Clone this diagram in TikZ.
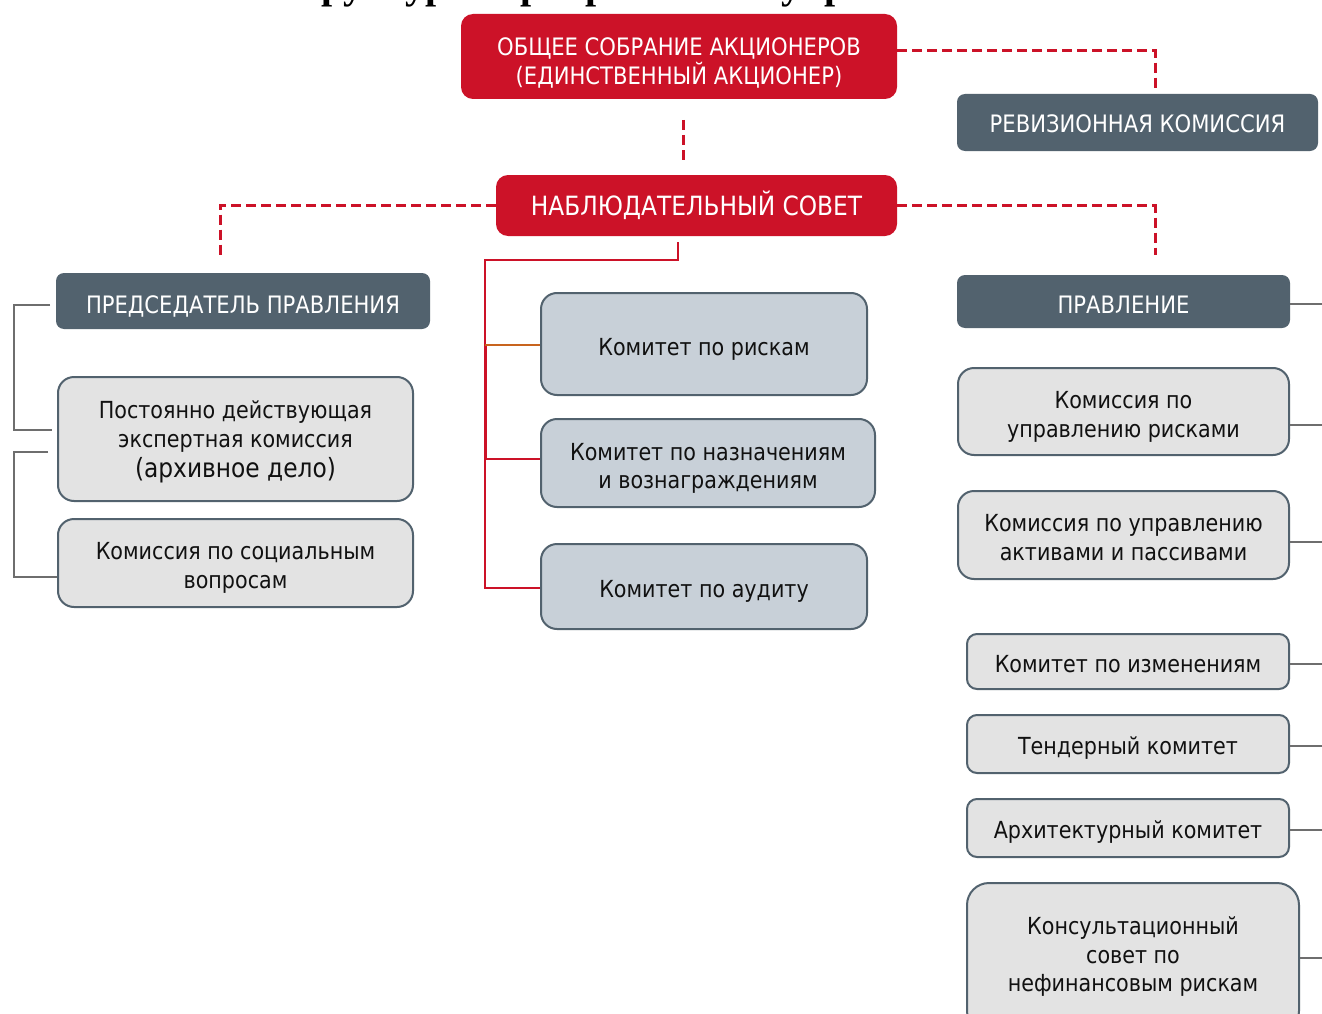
\documentclass[tikz,border=0pt]{standalone}
\usepackage{fontspec}
\setmainfont{DejaVu Sans}[FakeStretch=0.88]
\newfontfamily\titlefont{Liberation Serif}
\definecolor{cred}{HTML}{CC1228}
\definecolor{cslate}{HTML}{52626E}
\definecolor{clight}{HTML}{E3E3E3}
\definecolor{cblue}{HTML}{C8D0D8}
\definecolor{cgray}{HTML}{6E6E6E}
\definecolor{corange}{HTML}{C8641E}
\definecolor{ctext}{HTML}{111111}
\tikzset{
  redbox/.style={fill=cred, rounded corners=12pt, inner sep=0pt},
  slatebox/.style={fill=cslate, rounded corners=8pt, inner sep=0pt},
  graybox/.style={draw=cslate, line width=2pt, fill=clight, rounded corners=16pt, inner sep=0pt},
  bluebox/.style={graybox, fill=cblue},
  txt/.style={align=center, text=ctext, inner sep=0pt, font=\fontsize{23.5}{29}\selectfont},
  wtxt/.style={align=center, text=white, inner sep=0pt, font=\fontsize{24}{29}\selectfont},
  dashlink/.style={draw=cred, line width=3pt, dash pattern=on 10pt off 5pt},
  redlink/.style={draw=cred, line width=2pt},
  orangelink/.style={draw=corange, line width=2pt},
  graylink/.style={draw=cgray, line width=2pt},
}
\begin{document}
\begin{tikzpicture}[x=1pt, y=-1pt]
\useasboundingbox (0,0) rectangle (1322,1014);
\fill[white] (0,0) rectangle (1322,1014);
% clipped title
\begin{scope}
\clip (0,0) rectangle (1322,1014);
\node[anchor=base west, inner sep=0pt, font=\titlefont\bfseries\fontsize{40}{40}\selectfont] (title) at (273,-1) {Структура корпоративного управления Банка};
\end{scope}
% red boxes
\node[redbox, minimum width=436pt, minimum height=85pt,
  label={[wtxt, name=gsmt, yshift=-6pt]center:{ОБЩЕЕ СОБРАНИЕ АКЦИОНЕРОВ\\(ЕДИНСТВЕННЫЙ АКЦИОНЕР)}}] (gsm) at (679,56.5) {};
\node[redbox, minimum width=401pt, minimum height=61pt,
  label={[wtxt, name=sovt, font=\fontsize{26.5}{30}\selectfont]center:{НАБЛЮДАТЕЛЬНЫЙ СОВЕТ}}] (sov) at (696.5,205.5) {};
% slate boxes
\node[slatebox, minimum width=361pt, minimum height=57pt,
  label={[wtxt, name=revt, yshift=-1pt]center:{РЕВИЗИОННАЯ КОМИССИЯ}}] (rev) at (1137.5,122.5) {};
\node[slatebox, minimum width=374pt, minimum height=56pt,
  label={[wtxt, name=predt, yshift=-5pt]center:{ПРЕДСЕДАТЕЛЬ ПРАВЛЕНИЯ}}] (pred) at (243,301) {};
\node[slatebox, minimum width=333pt, minimum height=53pt,
  label={[wtxt, name=pravt, yshift=-3pt]center:{ПРАВЛЕНИЕ}}] (prav) at (1123.5,301.5) {};
% left boxes
\node[graybox, minimum width=355pt, minimum height=124pt,
  label={[txt, name=postt, yshift=-3pt]center:{Постоянно действующая\\экспертная комиссия\\[1pt]{\fontsize{26.5}{30}\selectfont (архивное дело)}}}] (post) at (235.5,439) {};
\node[graybox, minimum width=355pt, minimum height=88pt,
  label={[txt, name=soct, yshift=-5pt]center:{Комиссия по социальным\\вопросам}}] (soc) at (235.5,563) {};
% middle boxes
\node[bluebox, minimum width=326pt, minimum height=102pt,
  label={[txt, name=riskt, yshift=-5pt]center:{Комитет по рискам}}] (risk) at (704,344) {};
\node[bluebox, minimum width=334pt, minimum height=88pt,
  label={[txt, name=naznt, yshift=-5pt, font=\fontsize{23.5}{28}\selectfont]center:{Комитет по назначениям\\и вознаграждениям}}] (nazn) at (708,463) {};
\node[bluebox, minimum width=326pt, minimum height=85pt,
  label={[txt, name=audt, yshift=-5pt]center:{Комитет по аудиту}}] (aud) at (704,586.5) {};
% right boxes
\node[graybox, minimum width=331pt, minimum height=87pt,
  label={[txt, name=urt, yshift=-5pt]center:{Комиссия по\\управлению рисками}}] (ur) at (1123.5,411.5) {};
\node[graybox, minimum width=331pt, minimum height=88pt,
  label={[txt, name=apt, yshift=-3pt]center:{Комиссия по управлению\\активами и пассивами}}] (ap) at (1123.5,535) {};
\node[graybox, rounded corners=10pt, minimum width=322pt, minimum height=55pt,
  label={[txt, name=izmt, yshift=-3pt]center:{Комитет по изменениям}}] (izm) at (1128,661.5) {};
\node[graybox, rounded corners=10pt, minimum width=322pt, minimum height=58pt,
  label={[txt, name=tendt, yshift=-4pt]center:{Тендерный комитет}}] (tend) at (1128,744) {};
\node[graybox, rounded corners=10pt, minimum width=322pt, minimum height=58pt,
  label={[txt, name=archt, yshift=-4pt]center:{Архитектурный комитет}}] (arch) at (1128,828) {};
\node[graybox, rounded corners=22pt, minimum width=332pt, minimum height=150pt,
  label={[txt, name=konst, yshift=1pt, font=\fontsize{23.5}{28.5}\selectfont]center:{Консультационный\\совет по\\нефинансовым рискам}}] (kons) at (1133,958) {};
% coordinates
\coordinate (revtop) at (1155,88);
\coordinate (v1) at (683,120);
\coordinate (v2) at (683,162);
\coordinate (plft) at (220,255);
\coordinate (prgt) at (1155,255);
\coordinate (s0) at (678,242);
\coordinate (bus) at (485,260);
\coordinate (busend) at (485,588);
\coordinate (g1s) at (50,305);
\coordinate (g1e) at (52,430);
\coordinate (g2s) at (48,452);
\coordinate (g2e) at (57,577);
\coordinate (lx) at (14,0);
\coordinate (edge) at (1322,0);
% dashed links
\draw[dashlink] ([yshift=6pt]gsm.east) -| (revtop);
\draw[dashlink] (v1) -- (v2);
\draw[dashlink] (sov.west) -| (plft);
\draw[dashlink] (sov.east) -| (prgt);
% red solid bus
\draw[redlink] (s0) |- (bus) -- (busend) -- (aud.west |- busend);
\draw[redlink] (bus |- 0,459) -- (nazn.west |- 0,459);
\draw[redlink, line width=3pt] (bus |- 0,345) -- (bus |- 0,459);
\draw[orangelink] (bus |- 0,345) -- (risk.west |- 0,345);
% left gray brackets
\draw[graylink] (g1s) -| (lx |- g1e) -- (g1e);
\draw[graylink] (g2s) -| (lx |- g2e) -- (g2e);
% right gray stubs
\draw[graylink] ([yshift=-2.5pt]prav.east) -- ([yshift=-2.5pt]prav.east -| edge);
\draw[graylink] ([yshift=-13.5pt]ur.east) -- ([yshift=-13.5pt]ur.east -| edge);
\draw[graylink] ([yshift=-7pt]ap.east) -- ([yshift=-7pt]ap.east -| edge);
\draw[graylink] ([yshift=-2.5pt]izm.east) -- ([yshift=-2.5pt]izm.east -| edge);
\draw[graylink] ([yshift=-2pt]tend.east) -- ([yshift=-2pt]tend.east -| edge);
\draw[graylink] ([yshift=-2pt]arch.east) -- ([yshift=-2pt]arch.east -| edge);
\draw[graylink] (kons.east) -- (kons.east -| edge);
\end{tikzpicture}
\end{document}
